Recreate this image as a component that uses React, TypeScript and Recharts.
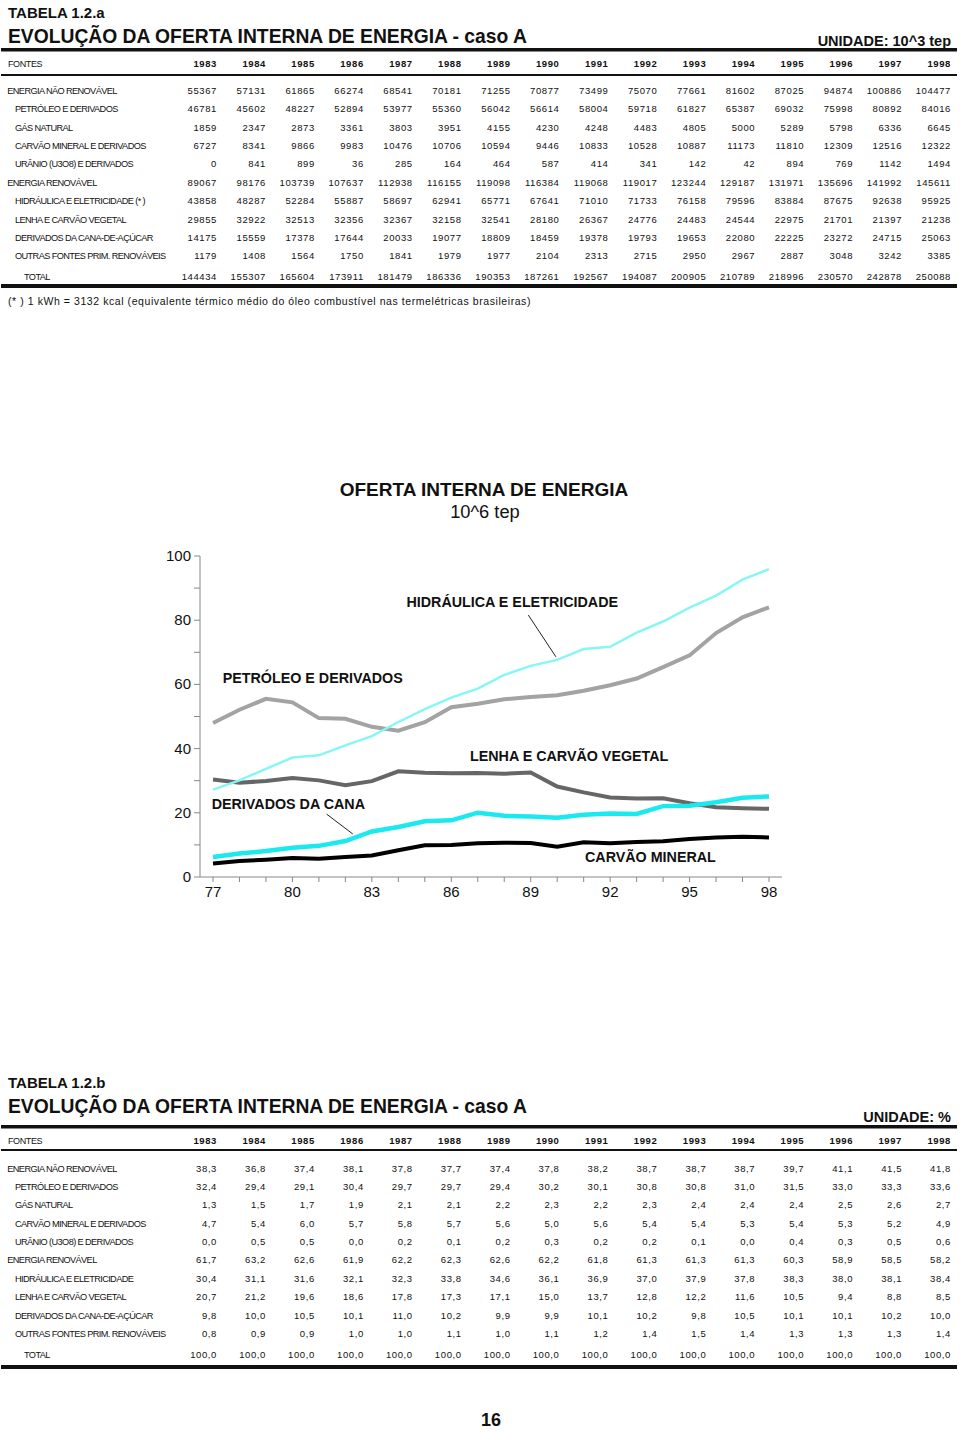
import React from 'react';
import { LineChart, Line, XAxis, YAxis, ReferenceLine } from 'recharts';

// ---- tabela 1.2.a (10^3 tep) ----
const anos = ['1983', '1984', '1985', '1986', '1987', '1988', '1989', '1990', '1991', '1992', '1993', '1994', '1995', '1996', '1997', '1998'];

const fontesA = [
    'ENERGIA NÃO RENOVÁVEL',
    'PETRÓLEO E DERIVADOS',
    'GÁS NATURAL',
    'CARVÃO MINERAL E DERIVADOS',
    'URÂNIO (U3O8) E DERIVADOS',
    'ENERGIA RENOVÁVEL',
    'HIDRÁULICA E ELETRICIDADE (* )',
    'LENHA E CARVÃO VEGETAL',
    'DERIVADOS DA CANA-DE-AÇÚCAR',
    'OUTRAS FONTES PRIM. RENOVÁVEIS',
];
const fontesB = [
    'ENERGIA NÃO RENOVÁVEL',
    'PETRÓLEO E DERIVADOS',
    'GÁS NATURAL',
    'CARVÃO MINERAL E DERIVADOS',
    'URÂNIO (U3O8) E DERIVADOS',
    'ENERGIA RENOVÁVEL',
    'HIDRÁULICA E ELETRICIDADE',
    'LENHA E CARVÃO VEGETAL',
    'DERIVADOS DA CANA-DE-AÇÚCAR',
    'OUTRAS FONTES PRIM. RENOVÁVEIS',
];

const naoRenovavel = [55367, 57131, 61865, 66274, 68541, 70181, 71255, 70877, 73499, 75070, 77661, 81602, 87025, 94874, 100886, 104477];
const petroleo = [46781, 45602, 48227, 52894, 53977, 55360, 56042, 56614, 58004, 59718, 61827, 65387, 69032, 75998, 80892, 84016];
const gasNatural = [1859, 2347, 2873, 3361, 3803, 3951, 4155, 4230, 4248, 4483, 4805, 5000, 5289, 5798, 6336, 6645];
const carvaoMineral = [6727, 8341, 9866, 9983, 10476, 10706, 10594, 9446, 10833, 10528, 10887, 11173, 11810, 12309, 12516, 12322];
const uranio = [0, 841, 899, 36, 285, 164, 464, 587, 414, 341, 142, 42, 894, 769, 1142, 1494];
const renovavel = [89067, 98176, 103739, 107637, 112938, 116155, 119098, 116384, 119068, 119017, 123244, 129187, 131971, 135696, 141992, 145611];
const hidraulica = [43858, 48287, 52284, 55887, 58697, 62941, 65771, 67641, 71010, 71733, 76158, 79596, 83884, 87675, 92638, 95925];
const lenha = [29855, 32922, 32513, 32356, 32367, 32158, 32541, 28180, 26367, 24776, 24483, 24544, 22975, 21701, 21397, 21238];
const cana = [14175, 15559, 17378, 17644, 20033, 19077, 18809, 18459, 19378, 19793, 19653, 22080, 22225, 23272, 24715, 25063];
const outras = [1179, 1408, 1564, 1750, 1841, 1979, 1977, 2104, 2313, 2715, 2950, 2967, 2887, 3048, 3242, 3385];
const totalA = [144434, 155307, 165604, 173911, 181479, 186336, 190353, 187261, 192567, 194087, 200905, 210789, 218996, 230570, 242878, 250088];

// ---- tabela 1.2.b (%) ----
const naoRenovavelPct = [38.3, 36.8, 37.4, 38.1, 37.8, 37.7, 37.4, 37.8, 38.2, 38.7, 38.7, 38.7, 39.7, 41.1, 41.5, 41.8];
const petroleoPct = [32.4, 29.4, 29.1, 30.4, 29.7, 29.7, 29.4, 30.2, 30.1, 30.8, 30.8, 31.0, 31.5, 33.0, 33.3, 33.6];
const gasPct = [1.3, 1.5, 1.7, 1.9, 2.1, 2.1, 2.2, 2.3, 2.2, 2.3, 2.4, 2.4, 2.4, 2.5, 2.6, 2.7];
const carvaoPct = [4.7, 5.4, 6.0, 5.7, 5.8, 5.7, 5.6, 5.0, 5.6, 5.4, 5.4, 5.3, 5.4, 5.3, 5.2, 4.9];
const uranioPct = [0.0, 0.5, 0.5, 0.0, 0.2, 0.1, 0.2, 0.3, 0.2, 0.2, 0.1, 0.0, 0.4, 0.3, 0.5, 0.6];
const renovavelPct = [61.7, 63.2, 62.6, 61.9, 62.2, 62.3, 62.6, 62.2, 61.8, 61.3, 61.3, 61.3, 60.3, 58.9, 58.5, 58.2];
const hidraulicaPct = [30.4, 31.1, 31.6, 32.1, 32.3, 33.8, 34.6, 36.1, 36.9, 37.0, 37.9, 37.8, 38.3, 38.0, 38.1, 38.4];
const lenhaPct = [20.7, 21.2, 19.6, 18.6, 17.8, 17.3, 17.1, 15.0, 13.7, 12.8, 12.2, 11.6, 10.5, 9.4, 8.8, 8.5];
const canaPct = [9.8, 10.0, 10.5, 10.1, 11.0, 10.2, 9.9, 9.9, 10.1, 10.2, 9.8, 10.5, 10.1, 10.1, 10.2, 10.0];
const outrasPct = [0.8, 0.9, 0.9, 1.0, 1.0, 1.1, 1.0, 1.1, 1.2, 1.4, 1.5, 1.4, 1.3, 1.3, 1.3, 1.4];
const totalPct = [100.0, 100.0, 100.0, 100.0, 100.0, 100.0, 100.0, 100.0, 100.0, 100.0, 100.0, 100.0, 100.0, 100.0, 100.0, 100.0];

// ---- gráfico: 1977-1982 (10^6 tep), 1983-98 vêm da tabela ----
const anosGrafico = [77, 78, 79, 80, 81, 82, 83, 84, 85, 86, 87, 88, 89, 90, 91, 92, 93, 94, 95, 96, 97, 98];
const petroleoInicio = [48.0, 52.1, 55.5, 54.4, 49.5, 49.3];
const hidraulicaInicio = [27.2, 30.1, 33.7, 37.2, 37.9, 41.0];
const lenhaInicio = [30.4, 29.4, 29.9, 30.8, 30.1, 28.6];
const canaInicio = [6.2, 7.3, 8.1, 9.1, 9.7, 11.2];
const carvaoInicio = [4.2, 5.0, 5.4, 5.9, 5.7, 6.2];

const yTicks = [0, 10, 20, 30, 40, 50, 60, 70, 80, 90, 100];

const emMilhoes = (v: number[]) => v.map((x) => x / 1000);
const serie = (inicio: number[], resto: number[]) => [...inicio, ...emMilhoes(resto)];

const sPet = serie(petroleoInicio, petroleo);
const sHid = serie(hidraulicaInicio, hidraulica);
const sLen = serie(lenhaInicio, lenha);
const sCan = serie(canaInicio, cana);
const sCar = serie(carvaoInicio, carvaoMineral);

const dadosGrafico = anosGrafico.map((ano, i) => ({
    ano,
    petroleo: sPet[i],
    hidraulica: sHid[i],
    lenha: sLen[i],
    cana: sCan[i],
    carvao: sCar[i],
}));

const FONT = '"Liberation Sans", Arial, Helvetica, sans-serif';

const colX = (i: number) => 217 + 48.93 * i;

interface TabelaProps {
    tag: string;
    unidade: string;
    fontes: string[];
    linhas: number[][];
    total: number[];
    fmt: (v: number) => string;
    tagY: number;
    titleY: number;
    unitY: number;
    lineY: number;
    headerY: number;
    headerLineY: number;
    rowY: number;
    totalY: number;
    bottomY: number;
}

function Tabela(p: TabelaProps) {
    return (
        <g fontFamily={FONT} fill="#111">
            <text x={8} y={p.tagY} fontSize={15} fontWeight="bold">{p.tag}</text>
            <text x={8} y={p.titleY} fontSize={19.3} fontWeight="bold">EVOLUÇÃO DA OFERTA INTERNA DE ENERGIA - caso A</text>
            <text x={951} y={p.unitY} fontSize={14.5} fontWeight="bold" textAnchor="end">{p.unidade}</text>
            <rect x={1} y={p.lineY} width={956} height={3.5} fill="#111" />
            <text x={8} y={p.headerY + 3.3} fontSize={9} letterSpacing={-0.4}>FONTES</text>
            {anos.map((a, i) => (
                <text key={a} x={colX(i)} y={p.headerY + 3.3} fontSize={9.5} fontWeight="bold" letterSpacing={0.6} textAnchor="end">{a}</text>
            ))}
            <rect x={1} y={p.headerLineY} width={956} height={2} fill="#111" />
            {p.fontes.map((f, r) => {
                const y = p.rowY + 18.37 * r + 3.3;
                const topo = f.startsWith('ENERGIA');
                return (
                    <g key={f}>
                        <text x={topo ? 7.3 : 15} y={y} fontSize={9.2} letterSpacing={-0.6}>{f}</text>
                        {p.linhas[r].map((v, i) => (
                            <text key={i} x={colX(i)} y={y} fontSize={9.5} letterSpacing={0.6} textAnchor="end">{p.fmt(v)}</text>
                        ))}
                    </g>
                );
            })}
            <text x={24} y={p.totalY + 3.3} fontSize={9.2} letterSpacing={-0.6}>TOTAL</text>
            {p.total.map((v, i) => (
                <text key={i} x={colX(i)} y={p.totalY + 3.3} fontSize={9.5} letterSpacing={0.6} textAnchor="end">{p.fmt(v)}</text>
            ))}
            <rect x={1} y={p.bottomY} width={956} height={4} fill="#111" />
        </g>
    );
}

const fmtInt = (v: number) => String(v);
const fmtPct = (v: number) => v.toFixed(1).replace('.', ',');

const XTick = (props: any) => {
    const { x, y, payload } = props;
    if ((payload.value - 77) % 3 !== 0) return null;
    return (
        <text x={x} y={y + 13} textAnchor="middle" fontSize={15} fontFamily={FONT} fill="#111">{payload.value}</text>
    );
};

const YTick = (props: any) => {
    const { x, y, payload } = props;
    if (payload.value % 20 !== 0) return null;
    return (
        <text x={x - 1} y={y + 5} textAnchor="end" fontSize={15} fontFamily={FONT} fill="#111">{payload.value}</text>
    );
};

export default function App() {
    return (
        <div style={{ position: 'relative', width: 960, height: 1436, background: '#fff', overflow: 'hidden' }}>
            <style>{'body{margin:0}'}</style>
            <svg width={960} height={1436} style={{ position: 'absolute', left: 0, top: 0 }}>
                <Tabela
                    tag="TABELA 1.2.a" unidade="UNIDADE: 10^3 tep" fontes={fontesA}
                    linhas={[naoRenovavel, petroleo, gasNatural, carvaoMineral, uranio, renovavel, hidraulica, lenha, cana, outras]}
                    total={totalA} fmt={fmtInt}
                    tagY={18.3} titleY={43.3} unitY={46} lineY={48} headerY={64} headerLineY={74}
                    rowY={90.7} totalY={276.7} bottomY={284}
                />
                <text x={8} y={305} fontSize={10.5} letterSpacing={0.57} fontFamily={FONT} fill="#111">
                    (* ) 1 kWh = 3132 kcal (equivalente térmico médio do óleo combustível nas termelétricas brasileiras)
                </text>

                <g fontFamily={FONT} fill="#111">
                    <text x={484} y={496.3} fontSize={19} fontWeight="bold" textAnchor="middle">OFERTA INTERNA DE ENERGIA</text>
                    <text x={485} y={517.5} fontSize={18.3} textAnchor="middle">10^6 tep</text>
                    <text x={618} y={606.7} fontSize={14.3} fontWeight="bold" textAnchor="end">HIDRÁULICA E ELETRICIDADE</text>
                    <text x={222.7} y={683.3} fontSize={14.3} fontWeight="bold">PETRÓLEO E DERIVADOS</text>
                    <text x={470} y={760.7} fontSize={14.3} fontWeight="bold">LENHA E CARVÃO VEGETAL</text>
                    <text x={211.7} y={809.3} fontSize={14.3} fontWeight="bold">DERIVADOS DA CANA</text>
                    <text x={585} y={861.7} fontSize={14.3} fontWeight="bold">CARVÃO MINERAL</text>
                </g>

                <Tabela
                    tag="TABELA 1.2.b" unidade="UNIDADE: %" fontes={fontesB}
                    linhas={[naoRenovavelPct, petroleoPct, gasPct, carvaoPct, uranioPct, renovavelPct, hidraulicaPct, lenhaPct, canaPct, outrasPct]}
                    total={totalPct} fmt={fmtPct}
                    tagY={1088.3} titleY={1113.3} unitY={1121.7} lineY={1125} headerY={1140.7} headerLineY={1149}
                    rowY={1168.3} totalY={1355} bottomY={1365}
                />
                <text x={491} y={1426} fontSize={18} fontWeight="bold" textAnchor="middle" fontFamily={FONT} fill="#111">16</text>
            </svg>

            <div style={{ position: 'absolute', left: 0, top: 540 }}>
                <LineChart width={800} height={380} data={dadosGrafico} margin={{ top: 16, right: 18, bottom: 13, left: 0 }}>
                    <XAxis
                        dataKey="ano" type="number" domain={[77, 98]} ticks={anosGrafico} interval={0}
                        padding={{ left: 13, right: 13 }} height={30}
                        axisLine={{ stroke: '#888' }} tickLine={{ stroke: '#888' }} tickSize={5}
                        tick={<XTick />}
                    />
                    <YAxis
                        type="number" domain={[0, 100]} ticks={yTicks} interval={0} width={200}
                        axisLine={{ stroke: '#888' }} tickLine={{ stroke: '#888' }} tickSize={6}
                        tick={<YTick />}
                    />
                    <Line type="linear" dataKey="petroleo" stroke="#a3a3a3" strokeWidth={4} dot={false} isAnimationActive={false} />
                    <Line type="linear" dataKey="lenha" stroke="#666666" strokeWidth={4} dot={false} isAnimationActive={false} />
                    <Line type="linear" dataKey="carvao" stroke="#000000" strokeWidth={4} dot={false} isAnimationActive={false} />
                    <Line type="linear" dataKey="hidraulica" stroke="#86f6f6" strokeWidth={2.5} dot={false} isAnimationActive={false} />
                    <Line type="linear" dataKey="cana" stroke="#1ae9ef" strokeWidth={4.5} dot={false} isAnimationActive={false} />
                    <ReferenceLine segment={[{ x: 88.91, y: 81.6 }, { x: 89.95, y: 68.6 }]} stroke="#222" strokeWidth={1} />
                    <ReferenceLine segment={[{ x: 81.29, y: 19.6 }, { x: 82.28, y: 13.4 }]} stroke="#222" strokeWidth={1} />
                </LineChart>
            </div>
        </div>
    );
}
